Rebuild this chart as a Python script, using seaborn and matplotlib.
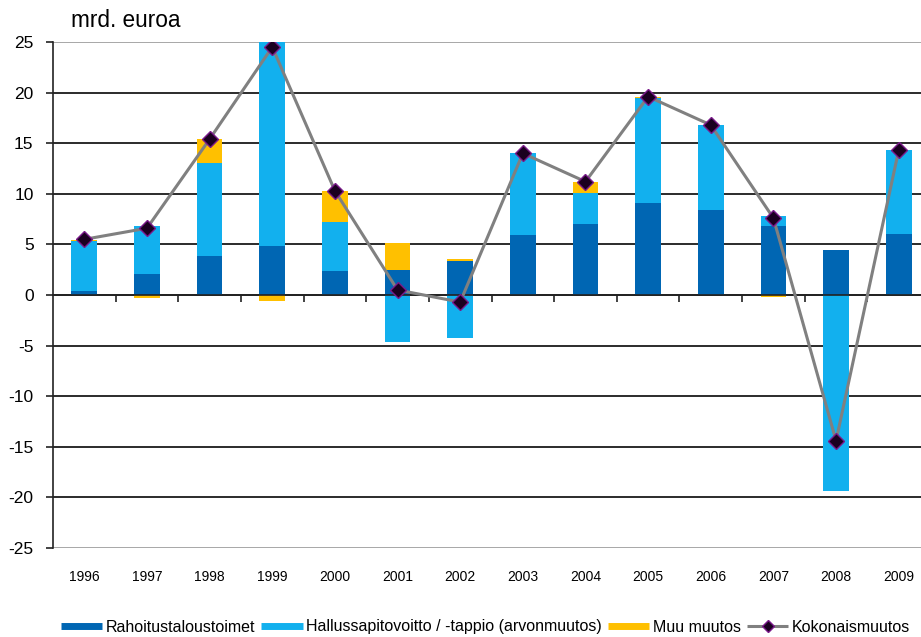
import numpy as np
import pandas as pd
import matplotlib.pyplot as plt
import seaborn as sns
from matplotlib.lines import Line2D

# Data (mrd. euroa)
years = ['1996', '1997', '1998', '1999', '2000', '2001', '2002',
         '2003', '2004', '2005', '2006', '2007', '2008', '2009']
rahoitus = [0.4, 2.1, 3.9, 4.8, 2.4, 2.5, 3.4, 5.9, 7.0, 9.1, 8.4, 6.8, 4.4, 6.0]
hallussapito = [4.9, 4.7, 9.1, 20.3, 4.8, -4.6, -4.2, 8.1, 3.1, 10.4, 8.4, 1.0, -19.4, 8.3]
muu = [0.1, -0.3, 2.4, -0.6, 3.1, 2.6, 0.15, 0.0, 1.1, 0.1, 0.0, -0.2, 0.0, 0.0]
kokonais = [5.5, 6.6, 15.4, 24.5, 10.3, 0.5, -0.7, 14.0, 11.2, 19.6, 16.8, 7.6, -14.4, 14.3]

series = [
    ('Rahoitustaloustoimet', rahoitus, '#0066b3'),
    ('Hallussapitovoitto / -tappio (arvonmuutos)', hallussapito, '#12b0ee'),
    ('Muu muutos', muu, '#ffc000'),
]

plt.rcParams['font.family'] = ['Liberation Sans', 'DejaVu Sans']
plt.rcParams['axes.unicode_minus'] = False

fig = plt.figure(figsize=(9.21, 6.37), dpi=100)
ax = fig.add_axes([53 / 921, 1 - 548 / 637, 877 / 921, 506 / 637])

# Pinottu pylväs: positiiviset ja negatiiviset erikseen
pos_base = np.zeros(len(years))
neg_base = np.zeros(len(years))
for name, vals, color in series:
    v = np.array(vals)
    bottom = np.where(v >= 0, pos_base, neg_base)
    sns.barplot(x=years, y=v, bottom=bottom, color=color, saturation=1,
                width=0.41, errorbar=None, ax=ax, linewidth=0, zorder=3)
    pos_base = pos_base + np.where(v >= 0, v, 0)
    neg_base = neg_base + np.where(v < 0, v, 0)

# Kokonaismuutos viivana
df_tot = pd.DataFrame({'x': np.arange(len(years)), 'y': kokonais})
sns.lineplot(data=df_tot, x='x', y='y', ax=ax, color='#808080', lw=2.2,
             marker='D', markersize=8.5, markerfacecolor='#1a0020',
             markeredgecolor='#7a1a8a', markeredgewidth=1, zorder=5)

ax.set_xlim(-0.5, 13.5)
ax.set_ylim(-25, 25)
ax.set_yticks(range(-25, 30, 5))
ax.set_xticks(range(len(years)))
ax.set_xticklabels(years)
ax.set_xticks(np.arange(0.5, 13.5, 1), minor=True)
ax.set_xlabel('')
ax.set_ylabel('')

# Vaaka-akseli nollatasolle
for s in ['top', 'right']:
    ax.spines[s].set_visible(False)
ax.spines['bottom'].set_position(('data', 0))
ax.spines['bottom'].set_color('#222222')
ax.spines['bottom'].set_linewidth(1.2)
ax.spines['bottom'].set_zorder(4)
ax.spines['left'].set_color('#222222')
ax.spines['left'].set_linewidth(1.2)

ax.tick_params(axis='x', which='major', length=0, pad=198, labelsize=10)
ax.tick_params(axis='x', which='minor', length=5, width=1.2, direction='out', color='#222222')
ax.tick_params(axis='y', length=5, width=1.2, color='#222222', labelsize=12.5, pad=9)

ax.yaxis.grid(True, color='#1a1a1a', lw=1.3)
ax.xaxis.grid(False)
ax.set_axisbelow(True)
ax.get_ygridlines()[-1].set_color('#a0a0a0')
ax.get_ygridlines()[0].set_color('#a0a0a0')

fig.text(71 / 921, 1 - 27 / 637, 'mrd. euroa', fontsize=16.3, ha='left', va='baseline')

handles = [Line2D([], [], color=c, lw=5, solid_capstyle='butt') for _, _, c in series]
handles.append(Line2D([], [], color='#808080', lw=2.2, marker='D', markersize=6,
                      solid_capstyle='butt',
                      markerfacecolor='#1a0020', markeredgecolor='#7a1a8a'))
labels = [n for n, _, _ in series] + ['Kokonaismuutos']
fig.legend(handles, labels, loc='center left', bbox_to_anchor=(61 / 921, 1 - 627 / 637),
           ncol=4, frameon=False, fontsize=11.5, handlelength=2.57, handletextpad=0.25,
           columnspacing=0.37, borderaxespad=0, borderpad=0)

fig.savefig('out.png', dpi=100, facecolor='white')
